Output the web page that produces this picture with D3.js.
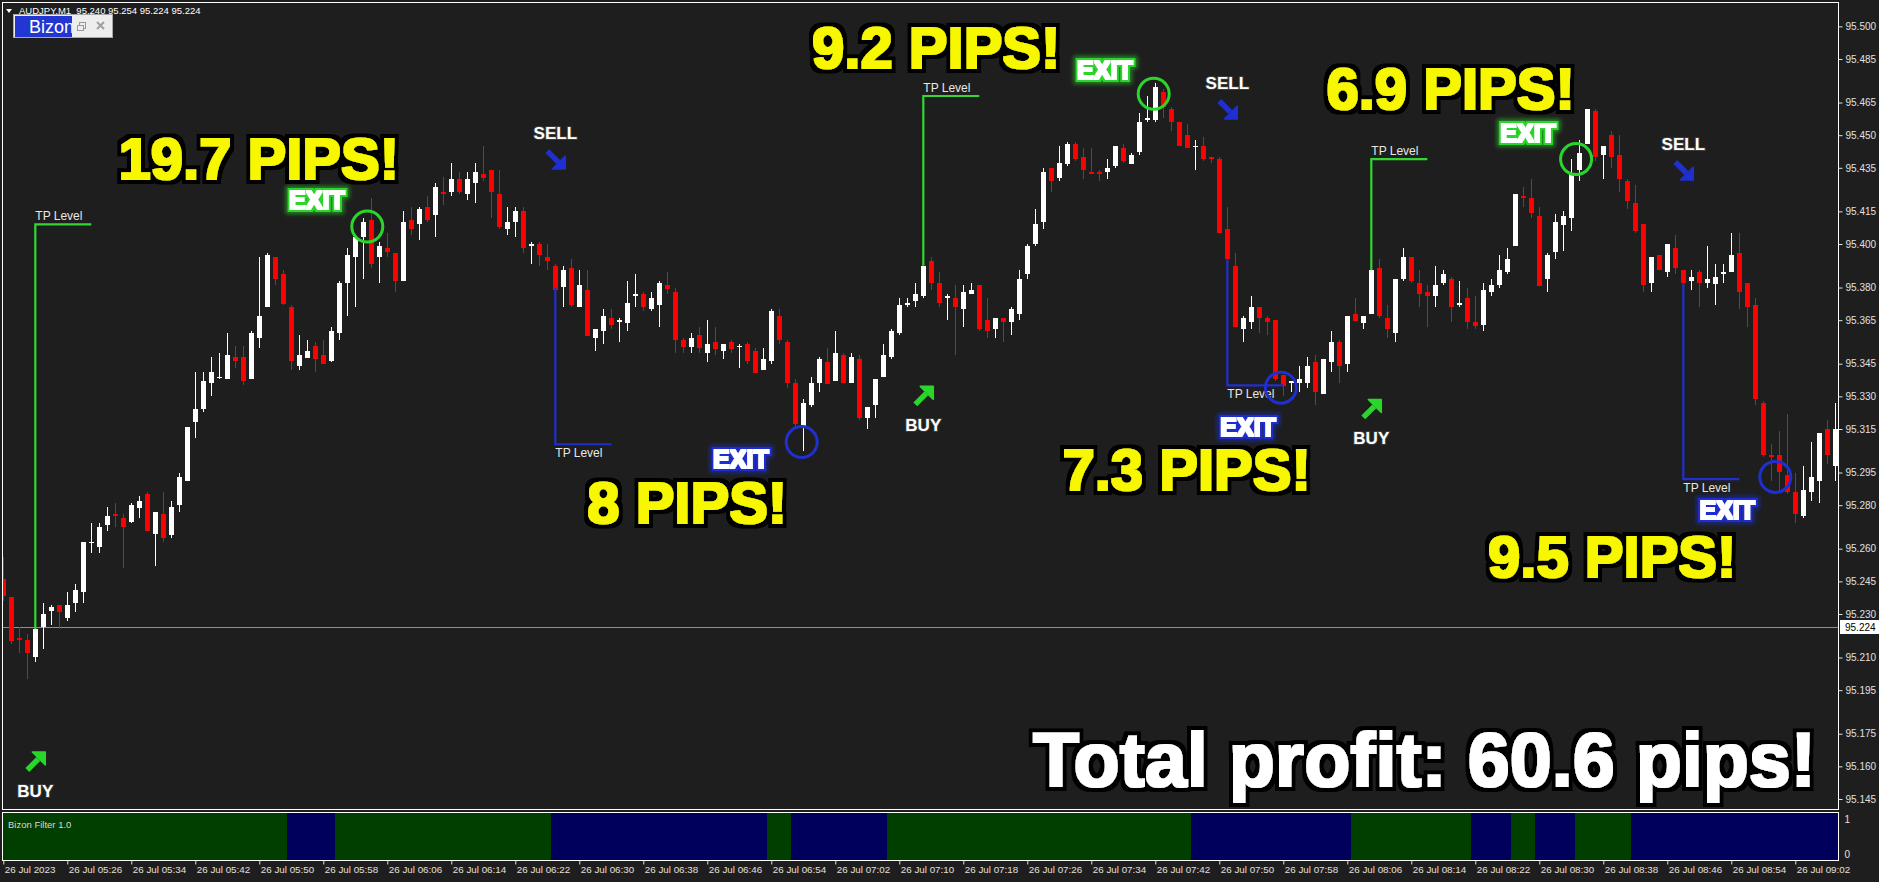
<!DOCTYPE html>
<html><head><meta charset="utf-8">
<script src="https://cdn.jsdelivr.net/npm/d3@7"></script>
<style>
body{margin:0;background:#1e1e1e;overflow:hidden}
text{font-family:'Liberation Sans',Arial,sans-serif}
</style>
</head><body>
<script>
// ---------------- DATA ----------------
const symbol = "AUDJPY,M1";
const headerOHLC = [95.240, 95.254, 95.224, 95.224];
const bidPrice = 95.224;

const opens = [95.246,95.238,95.219,95.218,95.210,95.224,95.231,95.234,95.228,95.235,
95.240,95.263,95.261,95.271,95.276,95.274,95.272,95.279,95.285,95.267,
95.276,95.266,95.280,95.291,95.318,95.324,95.336,95.339,95.338,95.348,
95.348,95.338,95.357,95.371,95.394,95.386,95.371,95.344,95.348,95.353,
95.349,95.346,95.359,95.382,95.394,95.403,95.411,95.394,95.398,95.396,
95.383,95.411,95.409,95.417,95.413,95.424,95.424,95.430,95.423,95.428,
95.432,95.434,95.423,95.407,95.410,95.415,95.399,95.400,95.394,95.390,
95.380,95.389,95.371,95.379,95.357,95.360,95.366,95.364,95.364,95.376,
95.377,95.370,95.372,95.381,95.378,95.356,95.353,95.358,95.350,95.355,
95.351,95.355,95.353,95.354,95.351,95.342,95.346,95.367,95.355,95.336,
95.316,95.326,95.336,95.346,95.337,95.349,95.336,95.347,95.320,95.326,
95.339,95.348,95.359,95.372,95.374,95.376,95.392,95.382,95.375,95.375,
95.370,95.377,95.381,95.365,95.361,95.366,95.364,95.368,95.386,95.400,
95.410,95.435,95.430,95.437,95.446,95.440,95.433,95.433,95.433,95.436,
95.444,95.437,95.442,95.457,95.457,95.470,95.462,95.456,95.450,95.445,
95.445,95.440,95.439,95.407,95.390,95.361,95.364,95.371,95.366,95.365,
95.340,95.336,95.336,95.336,95.346,95.331,95.346,95.355,95.345,95.368,
95.364,95.368,95.389,95.366,95.359,95.384,95.394,95.382,95.378,95.376,
95.382,95.384,95.372,95.375,95.364,95.363,95.378,95.381,95.387,95.399,
95.422,95.421,95.413,95.384,95.396,95.409,95.412,95.434,95.446,95.461,
95.441,95.450,95.441,95.429,95.419,95.409,95.382,95.395,95.387,95.398,
95.388,95.383,95.387,95.382,95.382,95.386,95.387,95.396,95.382,95.372,
95.327,95.303,95.303,95.294,95.286,95.275,95.286,95.291,95.315,95.298];

const highs = [95.256,95.238,95.224,95.221,95.223,95.235,95.234,95.234,95.240,95.244,
95.263,95.272,95.272,95.279,95.281,95.276,95.281,95.284,95.286,95.277,
95.286,95.282,95.295,95.316,95.341,95.341,95.348,95.350,95.359,95.353,
95.353,95.360,95.394,95.396,95.394,95.388,95.372,95.358,95.356,95.355,
95.356,95.362,95.383,95.398,95.403,95.412,95.421,95.401,95.405,95.396,
95.415,95.417,95.417,95.422,95.428,95.431,95.437,95.433,95.433,95.437,
95.445,95.434,95.434,95.417,95.417,95.417,95.401,95.401,95.400,95.391,
95.390,95.393,95.388,95.388,95.361,95.370,95.370,95.366,95.383,95.386,
95.378,95.378,95.383,95.387,95.380,95.357,95.359,95.362,95.365,95.362,
95.354,95.356,95.354,95.355,95.352,95.352,95.370,95.370,95.356,95.338,
95.329,95.339,95.348,95.352,95.360,95.350,95.350,95.349,95.325,95.338,
95.354,95.361,95.375,95.375,95.382,95.390,95.394,95.387,95.377,95.381,
95.381,95.382,95.381,95.375,95.366,95.366,95.371,95.388,95.400,95.416,
95.435,95.435,95.445,95.447,95.447,95.444,95.444,95.434,95.439,95.445,
95.446,95.442,95.460,95.468,95.474,95.471,95.463,95.456,95.455,95.448,
95.449,95.440,95.440,95.417,95.396,95.367,95.376,95.371,95.367,95.365,
95.340,95.337,95.344,95.348,95.349,95.347,95.360,95.356,95.367,95.375,
95.367,95.388,95.393,95.372,95.384,95.398,95.394,95.388,95.381,95.390,
95.388,95.385,95.383,95.380,95.376,95.382,95.384,95.395,95.398,95.423,
95.426,95.430,95.417,95.396,95.414,95.415,95.439,95.448,95.462,95.462,
95.445,95.452,95.450,95.430,95.427,95.409,95.394,95.395,95.400,95.404,
95.388,95.388,95.388,95.399,95.391,95.391,95.405,95.405,95.382,95.375,
95.328,95.308,95.314,95.322,95.295,95.298,95.309,95.313,95.319,95.327];

const lows = [95.236,95.216,95.212,95.200,95.208,95.214,95.225,95.223,95.227,95.231,
95.235,95.258,95.258,95.268,95.270,95.251,95.272,95.274,95.268,95.252,
95.263,95.265,95.277,95.291,95.311,95.323,95.330,95.338,95.338,95.343,
95.335,95.338,95.352,95.371,95.381,95.372,95.342,95.342,95.348,95.341,
95.345,95.346,95.356,95.367,95.371,95.384,95.389,95.382,95.394,95.378,
95.383,95.404,95.402,95.410,95.403,95.418,95.422,95.423,95.420,95.419,
95.429,95.412,95.407,95.404,95.403,95.396,95.391,95.390,95.388,95.378,
95.371,95.371,95.371,95.358,95.351,95.354,95.361,95.355,95.360,95.371,
95.369,95.369,95.362,95.377,95.350,95.350,95.350,95.350,95.346,95.349,
95.347,95.350,95.343,95.345,95.341,95.342,95.345,95.354,95.334,95.316,
95.305,95.325,95.332,95.336,95.337,95.336,95.336,95.319,95.315,95.320,
95.339,95.347,95.358,95.371,95.371,95.375,95.379,95.371,95.365,95.349,
95.362,95.377,95.360,95.357,95.357,95.355,95.358,95.365,95.384,95.399,
95.407,95.424,95.429,95.436,95.438,95.430,95.432,95.429,95.430,95.435,
95.437,95.437,95.441,95.456,95.456,95.458,95.452,95.445,95.444,95.434,
95.438,95.437,95.405,95.393,95.362,95.355,95.361,95.359,95.358,95.337,
95.330,95.332,95.332,95.334,95.326,95.331,95.341,95.336,95.341,95.365,
95.361,95.368,95.366,95.357,95.355,95.383,95.382,95.371,95.362,95.371,
95.381,95.364,95.371,95.361,95.361,95.360,95.376,95.380,95.386,95.399,
95.417,95.412,95.381,95.378,95.393,95.397,95.406,95.429,95.446,95.438,
95.430,95.435,95.424,95.416,95.405,95.378,95.378,95.388,95.385,95.386,
95.382,95.379,95.371,95.380,95.372,95.382,95.387,95.370,95.362,95.326,
95.302,95.291,95.287,95.285,95.272,95.274,95.282,95.281,95.299,95.291];

const closes = [95.238,95.218,95.218,95.212,95.223,95.230,95.233,95.231,95.234,95.241,
95.263,95.263,95.270,95.275,95.275,95.270,95.280,95.282,95.268,95.277,
95.265,95.279,95.293,95.316,95.324,95.337,95.341,95.339,95.349,95.346,
95.337,95.359,95.367,95.395,95.384,95.372,95.346,95.349,95.351,95.347,
95.345,95.360,95.382,95.395,95.403,95.410,95.391,95.399,95.396,95.383,
95.410,95.407,95.416,95.411,95.426,95.423,95.430,95.424,95.430,95.433,
95.430,95.424,95.408,95.410,95.415,95.398,95.400,95.395,95.392,95.379,
95.388,95.372,95.381,95.358,95.361,95.367,95.363,95.365,95.373,95.377,
95.371,95.375,95.382,95.379,95.356,95.353,95.357,95.352,95.354,95.352,
95.354,95.352,95.353,95.346,95.341,95.347,95.369,95.356,95.336,95.317,
95.327,95.336,95.347,95.336,95.350,95.336,95.348,95.320,95.325,95.338,
95.349,95.360,95.372,95.373,95.377,95.390,95.382,95.373,95.376,95.371,
95.378,95.379,95.361,95.360,95.366,95.364,95.370,95.384,95.399,95.409,
95.433,95.429,95.437,95.446,95.439,95.434,95.432,95.432,95.435,95.445,
95.438,95.441,95.456,95.458,95.472,95.463,95.456,95.445,95.444,95.445,
95.439,95.439,95.405,95.393,95.362,95.366,95.371,95.366,95.364,95.338,
95.335,95.337,95.338,95.344,95.332,95.347,95.355,95.344,95.367,95.365,
95.367,95.388,95.367,95.361,95.384,95.394,95.383,95.377,95.376,95.381,
95.386,95.371,95.373,95.364,95.362,95.379,95.381,95.388,95.393,95.423,
95.421,95.414,95.381,95.395,95.410,95.413,95.432,95.442,95.462,95.440,
95.445,95.440,95.430,95.420,95.406,95.381,95.394,95.388,95.400,95.389,
95.382,95.385,95.382,95.384,95.385,95.387,95.395,95.378,95.371,95.329,
95.303,95.302,95.295,95.286,95.276,95.287,95.293,95.313,95.303,95.315];

const priceTicks = [95.500,95.485,95.465,95.450,95.435,95.415,95.400,95.380,95.365,95.345,95.330,
95.315,95.295,95.280,95.260,95.245,95.230,95.210,95.195,95.175,95.160,95.145];

const timeLabels = ["26 Jul 2023","26 Jul 05:26","26 Jul 05:34","26 Jul 05:42","26 Jul 05:50",
"26 Jul 05:58","26 Jul 06:06","26 Jul 06:14","26 Jul 06:22","26 Jul 06:30","26 Jul 06:38",
"26 Jul 06:46","26 Jul 06:54","26 Jul 07:02","26 Jul 07:10","26 Jul 07:18","26 Jul 07:26",
"26 Jul 07:34","26 Jul 07:42","26 Jul 07:50","26 Jul 07:58","26 Jul 08:06","26 Jul 08:14",
"26 Jul 08:22","26 Jul 08:30","26 Jul 08:38","26 Jul 08:46","26 Jul 08:54","26 Jul 09:02"];
const minutesPerLabel = 8;

// Bizon Filter: run lengths (in bars) and state (1 = bullish green, 0 = bearish navy)
const filterRunLengths = [36,6,27,27,3,12,38,20,15,5,3,5,7,26];
const filterRunStates  = [1,0,1,0,1,0,1,0,1,0,1,0,1,0];

// trade signals
const signalType  = ["buy","sell","buy","sell","buy","sell"];
const signalIdx   = [4,69,115,153,171,210];
const entryPrice  = [95.223,95.380,95.390,95.393,95.388,95.382];
const tpPrice     = [95.409,95.308,95.468,95.335,95.439,95.292];
const tpEndIdx    = [11,76,122,160,178,217];
const arrowPrice  = [95.162,95.439,95.330,95.462,95.324,95.434];

// exits
const exitCircleIdx   = [45.5,99.8,143.8,159.7,196.6,221.5];
const exitCirclePrice = [95.408,95.309,95.469,95.334,95.439,95.293];
const exitLabelIdx    = [39.2,92.2,137.7,155.6,190.6,215.5];
const exitLabelPrice  = [95.420,95.301,95.480,95.316,95.451,95.278];

// profit callouts
const pipsText  = ["19.7 PIPS!","8 PIPS!","9.2 PIPS!","7.3 PIPS!","6.9 PIPS!","9.5 PIPS!"];
const pipsIdx   = [14.4,73.0,101.1,132.4,165.4,185.6];
const pipsPrice = [95.430,95.272,95.481,95.287,95.462,95.247];
const totalText = "Total profit: 60.6 pips!";

// ---------------- LAYOUT ----------------
const W = 1879, H = 882;
const P = {left:2.5, right:1838.5, top:2.5, bottom:809.5};
const PN = {top:812.5, bottom:860.5};
const UP = "#ffffff", DOWN = "#ff0000";
const GREEN = "#2bd62b", BLUE = "#1f2fd0";
const FONT = "'Liberation Sans',Arial,sans-serif";

const svg = d3.select("body").append("svg").attr("width",W).attr("height",H)
  .style("background","#1e1e1e");

const nBars = opens.length;
const x = d3.scaleLinear().domain([0, nBars-1]).range([3.3, 3.3 + 8*(nBars-1)]);
const y = d3.scaleLinear().domain([95.485, 95.145]).range([59, 799]);
const yp = d3.scaleLinear().domain([0,1]).range([854.5, 819.5]);

const defs = svg.append("defs");
defs.append("clipPath").attr("id","plotClip").append("rect")
  .attr("x",P.left+0.5).attr("y",P.top+0.5).attr("width",P.right-P.left-1).attr("height",P.bottom-P.top-1);
defs.append("clipPath").attr("id","panelClip").append("rect")
  .attr("x",P.left+0.5).attr("y",PN.top+0.5).attr("width",P.right-P.left-1).attr("height",PN.bottom-PN.top-1);
defs.append("clipPath").attr("id","bizonClip").append("rect")
  .attr("x",15).attr("y",16).attr("width",57).attr("height",21);

// heavy outlined text filter
function heavyFilter(id, fillColor, grow, outlineColor, outline, glow){
  const f = defs.append("filter").attr("id",id)
    .attr("x","-20%").attr("y","-40%").attr("width","140%").attr("height","180%");
  f.append("feMorphology").attr("in","SourceAlpha").attr("operator","dilate").attr("radius",grow).attr("result","thick");
  f.append("feFlood").attr("flood-color",fillColor).attr("result","fc");
  f.append("feComposite").attr("in","fc").attr("in2","thick").attr("operator","in").attr("result","fillT");
  f.append("feMorphology").attr("in","SourceAlpha").attr("operator","dilate").attr("radius",outline).attr("result","outer");
  f.append("feFlood").attr("flood-color",outlineColor).attr("result","oc");
  f.append("feComposite").attr("in","oc").attr("in2","outer").attr("operator","in").attr("result","outl");
  const m = [];
  if (glow){
    f.append("feMorphology").attr("in","SourceAlpha").attr("operator","dilate").attr("radius",outline+2).attr("result","g1");
    f.append("feGaussianBlur").attr("in","g1").attr("stdDeviation",2).attr("result","g2");
    f.append("feFlood").attr("flood-color",outlineColor).attr("flood-opacity",0.55).attr("result","gc");
    f.append("feComposite").attr("in","gc").attr("in2","g2").attr("operator","in").attr("result","glow");
    m.push("glow");
  }
  m.push("outl","fillT");
  const mg = f.append("feMerge");
  m.forEach(n=>mg.append("feMergeNode").attr("in",n));
}
heavyFilter("fPips", "#f7f700", 1.2, "#000000", 4.5, false);
heavyFilter("fTotal", "#ffffff", 1.4, "#000000", 4.5, false);
heavyFilter("fExitG", "#ffffff", 0.6, GREEN, 2.6, true);
heavyFilter("fExitB", "#ffffff", 0.6, BLUE, 2.6, true);

// ---------- filter panel ----------
const runs = [];
let s = 0;
filterRunLengths.forEach((len,k)=>{ runs.push({start:s, end:s+len-1, state:filterRunStates[k]}); s += len; });
svg.append("g").attr("clip-path","url(#panelClip)")
  .selectAll("rect").data(runs).join("rect")
  .attr("x", d=>x(d.start-0.5)).attr("width", d=>x(d.end+0.5)-x(d.start-0.5))
  .attr("y", PN.top).attr("height", PN.bottom-PN.top)
  .attr("fill", d=>d.state ? "#003f00" : "#00005c")
  .attr("shape-rendering","crispEdges");
svg.append("text").attr("x",8).attr("y",828).attr("fill","#d8d8d8")
  .attr("font-size",9.5).text("Bizon Filter 1.0");

// ---------- bid line ----------
svg.append("line").attr("x1",P.left).attr("x2",P.right)
  .attr("y1",Math.round(y(bidPrice))+0.5).attr("y2",Math.round(y(bidPrice))+0.5)
  .attr("stroke","#8a8ea0").attr("stroke-width",1);

// ---------- candles ----------
const candles = opens.map((o,i)=>({i, o, h:highs[i], l:lows[i], c:closes[i]}));
const gc = svg.append("g").attr("clip-path","url(#plotClip)").attr("shape-rendering","crispEdges");
const col = d=> d.c >= d.o ? UP : DOWN;
gc.selectAll("line.wick").data(candles).join("line").attr("class","wick")
  .attr("x1", d=>Math.round(x(d.i))+0.5).attr("x2", d=>Math.round(x(d.i))+0.5)
  .attr("y1", d=>Math.round(y(d.h))).attr("y2", d=>Math.round(y(d.l)))
  .attr("stroke", col).attr("stroke-width",1);
gc.selectAll("rect.body").data(candles).join("rect").attr("class","body")
  .attr("x", d=>Math.round(x(d.i))-2).attr("width",5)
  .attr("y", d=>Math.round(y(Math.max(d.o,d.c))))
  .attr("height", d=>Math.max(1, Math.round(Math.abs(y(d.o)-y(d.c)))))
  .attr("fill", col);

// ---------- TP lines ----------
const trades = signalIdx.map((idx,k)=>({type:signalType[k], idx, entry:entryPrice[k], tp:tpPrice[k],
  end:tpEndIdx[k], arrow:arrowPrice[k]}));
const ga = svg.append("g").attr("clip-path","url(#plotClip)");
ga.selectAll("path.tp").data(trades).join("path")
  .attr("d", d=>`M${x(d.idx)},${y(d.entry)}V${y(d.tp)}H${x(d.end)}`)
  .attr("fill","none").attr("stroke", d=>d.type==="buy"?"#33d633":"#2030c8").attr("stroke-width",2.2);
ga.selectAll("text.tp").data(trades).join("text")
  .attr("x", d=>x(d.idx)).attr("y", d=>d.type==="buy" ? y(d.tp)-4 : y(d.tp)+13)
  .attr("fill","#e8e8e8").attr("font-size",12).text("TP Level");

// ---------- arrows + BUY/SELL ----------
const gs = ga.selectAll("g.sig").data(trades).join("g")
  .attr("transform", d=>`translate(${x(d.idx)},${y(d.arrow)})`);
gs.append("line").attr("x1",-8).attr("x2",3)
  .attr("y1", d=>d.type==="buy"?8:-8).attr("y2", d=>d.type==="buy"?-3:3)
  .attr("stroke", d=>d.type==="buy"?GREEN:BLUE).attr("stroke-width",5.5);
gs.append("path")
  .attr("d", d=> d.type==="buy" ? "M10,-10L10,3L-3,-10Z" : "M10,10L10,-3L-3,10Z")
  .attr("fill", d=>d.type==="buy"?GREEN:BLUE)
  .attr("stroke", d=>d.type==="buy"?GREEN:BLUE).attr("stroke-width",1.5).attr("stroke-linejoin","round");
gs.append("text").attr("text-anchor","middle")
  .attr("y", d=>d.type==="buy"?35:-20)
  .attr("font-size",17).attr("font-weight","bold").attr("fill","#ffffff")
  .attr("stroke","#3a3a3a").attr("stroke-width",2).attr("paint-order","stroke")
  .text(d=>d.type.toUpperCase());

// ---------- exit circles ----------
const exits = exitCircleIdx.map((idx,k)=>({idx, p:exitCirclePrice[k], li:exitLabelIdx[k], lp:exitLabelPrice[k],
  color: k%2===0 ? GREEN : BLUE, f: k%2===0 ? "url(#fExitG)" : "url(#fExitB)"}));
ga.selectAll("circle.exit").data(exits).join("circle")
  .attr("cx", d=>x(d.idx)).attr("cy", d=>y(d.p)).attr("r",15.5)
  .attr("fill","none").attr("stroke", d=>d.color).attr("stroke-width",3);

ga.selectAll("text.exit").data(exits).join("text")
  .attr("x", d=>x(d.li)).attr("y", d=>y(d.lp)).attr("dy","0.36em").attr("text-anchor","middle")
  .attr("font-size",25).attr("font-weight","bold").attr("fill","#ffffff")
  .attr("filter", d=>d.f)
  .text("EXIT");

// ---------- PIPS callouts ----------
const pips = pipsText.map((t,k)=>({t, idx:pipsIdx[k], p:pipsPrice[k]}));
ga.selectAll("text.pips").data(pips).join("text")
  .attr("x", d=>x(d.idx)).attr("y", d=>y(d.p))
  .attr("font-size",58).attr("font-weight","bold").attr("fill","#f7f700")
  .attr("filter","url(#fPips)")
  .text(d=>d.t);

// total
svg.append("text").attr("x",1033).attr("y",786).attr("font-size",75.5).attr("font-weight","bold")
  .attr("fill","#ffffff").attr("filter","url(#fTotal)").text(totalText);

// ---------- frames ----------
svg.append("rect").attr("x",P.left).attr("y",P.top).attr("width",P.right-P.left).attr("height",P.bottom-P.top)
  .attr("fill","none").attr("stroke","#ffffff").attr("stroke-width",1);
svg.append("rect").attr("x",P.left).attr("y",PN.top).attr("width",P.right-P.left).attr("height",PN.bottom-PN.top)
  .attr("fill","none").attr("stroke","#ffffff").attr("stroke-width",1);

// ---------- axes ----------
const styleAxis = g=>{
  g.select(".domain").remove();
  g.selectAll("line").attr("stroke","#e0e0e0");
  g.selectAll("text").attr("fill","#e0e0e0").attr("font-family",FONT);
};
svg.append("g").attr("transform",`translate(${P.right},0)`)
  .call(d3.axisRight(y).tickValues(priceTicks).tickSize(4).tickPadding(3).tickFormat(d3.format(".3f")))
  .call(styleAxis).call(g=>g.selectAll("text").attr("font-size",10));
svg.append("g").attr("transform",`translate(${P.right},0)`)
  .call(d3.axisRight(yp).tickValues([1,0]).tickSize(0).tickPadding(6).tickFormat(d3.format("d")))
  .call(styleAxis).call(g=>g.selectAll("text").attr("font-size",10));

const timeIdx = timeLabels.map((_,k)=>k*minutesPerLabel);
svg.append("g").attr("transform",`translate(0,${PN.bottom})`)
  .call(d3.axisBottom(x).tickValues(timeIdx).tickSize(4).tickPadding(2).tickFormat((d,k)=>timeLabels[k]))
  .call(styleAxis)
  .call(g=>g.selectAll("text").attr("font-size",9.8).attr("text-anchor","start").attr("dx",1));

// bid price box
const by = Math.round(y(bidPrice));
svg.append("rect").attr("x",1840).attr("y",by-7).attr("width",39).attr("height",14).attr("fill","#ffffff");
svg.append("text").attr("x",1845).attr("y",by+4).attr("font-size",10).attr("fill","#000").text(d3.format(".3f")(bidPrice));

// ---------- header ----------
svg.append("path").attr("d","M6,9L12,9L9,13Z").attr("fill","#fff");
svg.append("text").attr("x",19).attr("y",14).attr("font-size",9.5).attr("fill","#fff")
  .attr("xml:space","preserve").style("white-space","pre")
  .text(symbol + "  " + headerOHLC.map(d3.format(".3f")).join(" "));

// Bizon window tab
svg.append("rect").attr("x",13.5).attr("y",14.5).attr("width",99).attr("height",23)
  .attr("fill","#ededed").attr("stroke","#a8a8a8");
svg.append("rect").attr("x",15).attr("y",16).attr("width",57).attr("height",21).attr("fill","#2236d4");
svg.append("text").attr("x",29).attr("y",33).attr("font-size",18).attr("fill","#fff")
  .attr("clip-path","url(#bizonClip)").text("Bizon");
svg.append("rect").attr("x",79.5).attr("y",22.5).attr("width",6).attr("height",6).attr("fill","none").attr("stroke","#9a9a9a");
svg.append("rect").attr("x",77.5).attr("y",25.5).attr("width",6).attr("height",5).attr("fill","#ededed").attr("stroke","#9a9a9a");
svg.append("path").attr("d","M97,22L104,29M104,22L97,29").attr("stroke","#a0a0a0").attr("stroke-width",2);
</script>
</body></html>
